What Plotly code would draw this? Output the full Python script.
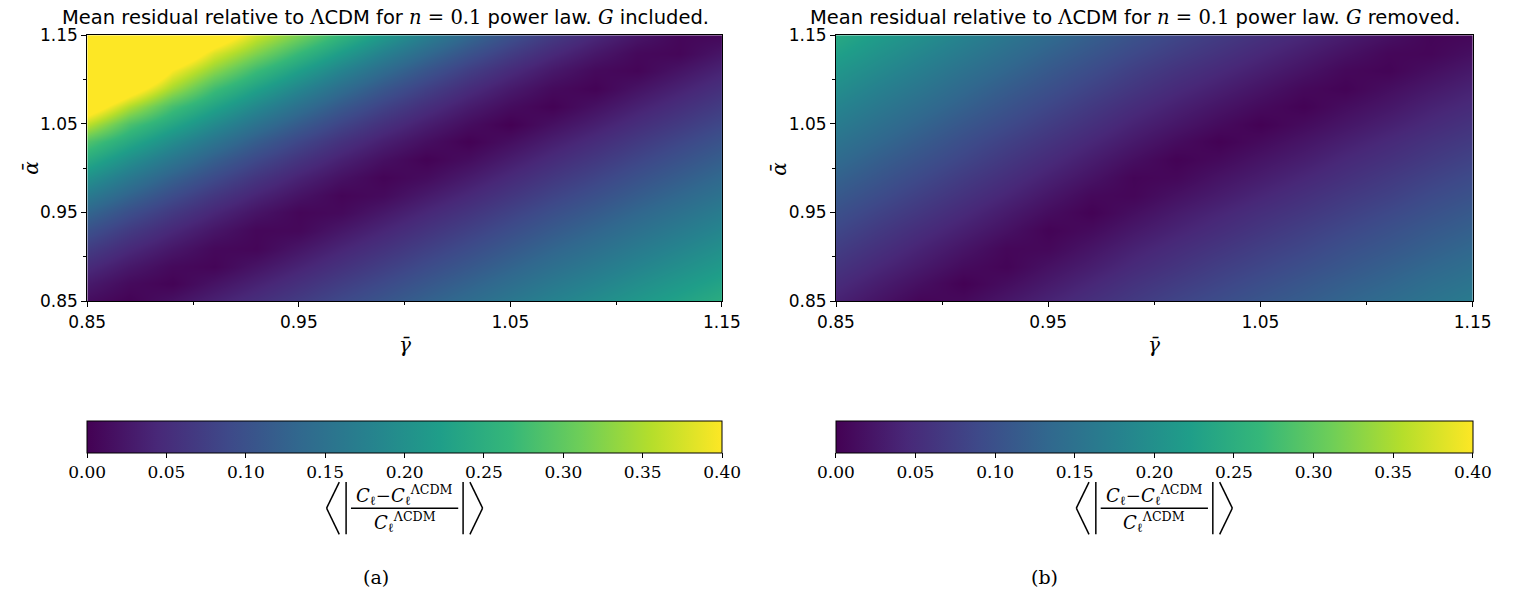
import plotly.graph_objects as go

# ---------------- data ----------------
gamma_bar = [0.85, 0.87, 0.89, 0.91, 0.93, 0.95, 0.97, 0.99,
             1.01, 1.03, 1.05, 1.07, 1.09, 1.11, 1.13, 1.15]
alpha_bar = [0.85, 0.87, 0.89, 0.91, 0.93, 0.95, 0.97, 0.99,
             1.01, 1.03, 1.05, 1.07, 1.09, 1.11, 1.13, 1.15]

# panel (a): one row per alpha_bar value (bottom -> top), columns follow gamma_bar
resid_included = [
    [0.013, 0.002, 0.019, 0.037, 0.054, 0.072, 0.090, 0.107, 0.125, 0.142, 0.160, 0.178, 0.195, 0.213, 0.230, 0.248],
    [0.029, 0.011, 0.003, 0.021, 0.038, 0.056, 0.074, 0.091, 0.109, 0.126, 0.144, 0.162, 0.179, 0.197, 0.214, 0.232],
    [0.049, 0.027, 0.010, 0.005, 0.022, 0.040, 0.058, 0.075, 0.093, 0.110, 0.128, 0.146, 0.163, 0.181, 0.198, 0.216],
    [0.073, 0.047, 0.026, 0.009, 0.006, 0.024, 0.042, 0.059, 0.077, 0.094, 0.112, 0.130, 0.147, 0.165, 0.182, 0.200],
    [0.100, 0.070, 0.045, 0.024, 0.007, 0.008, 0.026, 0.043, 0.061, 0.078, 0.096, 0.114, 0.131, 0.149, 0.166, 0.184],
    [0.131, 0.097, 0.068, 0.043, 0.022, 0.006, 0.010, 0.027, 0.045, 0.062, 0.080, 0.098, 0.115, 0.133, 0.150, 0.168],
    [0.165, 0.128, 0.094, 0.065, 0.041, 0.021, 0.005, 0.011, 0.029, 0.046, 0.064, 0.082, 0.099, 0.117, 0.134, 0.152],
    [0.203, 0.162, 0.124, 0.092, 0.063, 0.039, 0.019, 0.004, 0.013, 0.030, 0.048, 0.066, 0.083, 0.101, 0.118, 0.136],
    [0.245, 0.199, 0.158, 0.121, 0.089, 0.061, 0.037, 0.017, 0.002, 0.014, 0.032, 0.050, 0.067, 0.085, 0.102, 0.120],
    [0.290, 0.241, 0.195, 0.155, 0.118, 0.086, 0.058, 0.035, 0.016, 0.001, 0.016, 0.034, 0.051, 0.069, 0.086, 0.104],
    [0.362, 0.285, 0.236, 0.191, 0.151, 0.115, 0.083, 0.056, 0.033, 0.014, 0.000, 0.018, 0.035, 0.053, 0.070, 0.088],
    [0.446, 0.354, 0.281, 0.232, 0.188, 0.148, 0.112, 0.081, 0.054, 0.031, 0.013, 0.002, 0.019, 0.037, 0.054, 0.072],
    [0.535, 0.438, 0.346, 0.276, 0.228, 0.184, 0.144, 0.109, 0.078, 0.051, 0.029, 0.011, 0.003, 0.021, 0.038, 0.056],
    [0.631, 0.526, 0.400, 0.330, 0.272, 0.224, 0.180, 0.141, 0.106, 0.075, 0.049, 0.027, 0.010, 0.005, 0.022, 0.040],
    [0.732, 0.621, 0.470, 0.380, 0.322, 0.267, 0.219, 0.176, 0.137, 0.103, 0.073, 0.047, 0.026, 0.009, 0.006, 0.024],
    [0.839, 0.722, 0.560, 0.450, 0.370, 0.316, 0.262, 0.215, 0.172, 0.134, 0.100, 0.070, 0.045, 0.024, 0.007, 0.008],
]

# panel (b): one column per gamma_bar value, each listing alpha_bar bottom -> top
resid_removed_by_gamma = [
    [0.037, 0.049, 0.061, 0.073, 0.086, 0.099, 0.112, 0.125, 0.139, 0.153, 0.167, 0.181, 0.196, 0.210, 0.226, 0.241],
    [0.021, 0.032, 0.044, 0.056, 0.068, 0.081, 0.094, 0.107, 0.120, 0.134, 0.147, 0.161, 0.175, 0.190, 0.204, 0.219],
    [0.005, 0.016, 0.028, 0.039, 0.051, 0.064, 0.076, 0.089, 0.102, 0.115, 0.128, 0.142, 0.156, 0.170, 0.184, 0.199],
    [0.010, 0.001, 0.012, 0.023, 0.035, 0.047, 0.059, 0.071, 0.084, 0.096, 0.109, 0.123, 0.136, 0.150, 0.164, 0.178],
    [0.025, 0.014, 0.004, 0.007, 0.019, 0.030, 0.042, 0.054, 0.066, 0.078, 0.091, 0.104, 0.117, 0.131, 0.144, 0.158],
    [0.040, 0.029, 0.019, 0.008, 0.003, 0.014, 0.025, 0.037, 0.049, 0.061, 0.073, 0.086, 0.099, 0.112, 0.125, 0.139],
    [0.055, 0.044, 0.033, 0.023, 0.012, 0.002, 0.009, 0.021, 0.032, 0.044, 0.056, 0.068, 0.081, 0.094, 0.107, 0.120],
    [0.069, 0.059, 0.048, 0.038, 0.027, 0.016, 0.006, 0.005, 0.016, 0.028, 0.039, 0.051, 0.064, 0.076, 0.089, 0.102],
    [0.083, 0.072, 0.061, 0.051, 0.040, 0.030, 0.019, 0.008, 0.002, 0.013, 0.025, 0.036, 0.048, 0.060, 0.073, 0.085],
    [0.095, 0.084, 0.074, 0.063, 0.052, 0.042, 0.031, 0.021, 0.010, 0.001, 0.012, 0.023, 0.035, 0.047, 0.059, 0.071],
    [0.107, 0.096, 0.085, 0.075, 0.064, 0.054, 0.043, 0.032, 0.022, 0.011, 0.001, 0.011, 0.022, 0.034, 0.045, 0.057],
    [0.118, 0.108, 0.097, 0.086, 0.076, 0.065, 0.055, 0.044, 0.033, 0.023, 0.012, 0.002, 0.009, 0.021, 0.032, 0.044],
    [0.130, 0.120, 0.109, 0.099, 0.088, 0.077, 0.067, 0.056, 0.046, 0.035, 0.024, 0.014, 0.003, 0.008, 0.019, 0.031],
    [0.142, 0.131, 0.121, 0.110, 0.100, 0.089, 0.078, 0.068, 0.057, 0.047, 0.036, 0.025, 0.015, 0.004, 0.007, 0.018],
    [0.154, 0.144, 0.133, 0.122, 0.112, 0.101, 0.091, 0.080, 0.069, 0.059, 0.048, 0.038, 0.027, 0.016, 0.006, 0.005],
    [0.166, 0.155, 0.145, 0.134, 0.123, 0.113, 0.102, 0.092, 0.081, 0.070, 0.060, 0.049, 0.039, 0.028, 0.017, 0.007],
]

axis_ticks = [0.85, 0.95, 1.05, 1.15]
axis_minor = [0.90, 1.00, 1.10]
cbar_ticks = [0.00, 0.05, 0.10, 0.15, 0.20, 0.25, 0.30, 0.35, 0.40]
titles = ["included.", "removed."]
captions = ["(a)", "(b)"]

# ---------------- layout helpers ----------------
W, H = 1517, 613
def px(x):
    return x / W
def py(y):
    return 1 - y / H

SANS = "DejaVu Sans, Open Sans, sans-serif"
SERIF = "DejaVu Serif, Liberation Serif, serif"

panels = [(70, 721), (838, 1491)]
top, bottom = 26, 301
cb_top, cb_bot = 425, 457
caption_x = [366, 1052]

fig = go.Figure()

traces = [dict(z=resid_included, transpose=False),
          dict(z=resid_removed_by_gamma, transpose=True)]
for i, (tr, (xl, xr)) in enumerate(zip(traces, panels)):
    xa = "x" if i == 0 else "x2"
    ya = "y" if i == 0 else "y2"
    fig.add_trace(go.Heatmap(
        x=gamma_bar, y=alpha_bar, z=tr["z"], transpose=tr["transpose"],
        colorscale="Viridis", zmin=0, zmax=0.4, zsmooth="best",
        xaxis=xa, yaxis=ya, hoverinfo="skip",
        colorbar=dict(
            orientation="h",
            x=px((xl + xr) / 2), xanchor="center",
            y=py(cb_top), yanchor="top",
            len=(xr - xl) / W, lenmode="fraction",
            thickness=cb_bot - cb_top, thicknessmode="pixels",
            xpad=0, ypad=0,
            outlinecolor="black", outlinewidth=1,
            ticks="outside", ticklen=5, tickcolor="black",
            tickvals=cbar_ticks, ticktext=[f"{v:.2f}" for v in cbar_ticks],
            tickfont=dict(family=SERIF, size=17, color="black"),
        ),
    ))

axis_common = dict(
    range=[0.85, 1.15], showline=True, linecolor="black", linewidth=1,
    mirror=True, ticks="outside", ticklen=5, tickcolor="black",
    tickvals=axis_ticks, ticktext=[f"{v:.2f}" for v in axis_ticks],
    tickfont=dict(family=SANS, size=17, color="black"),
    minor=dict(tickvals=axis_minor, ticks="outside", ticklen=3, tickcolor="black"),
    showgrid=False, zeroline=False,
)

fig.update_layout(
    width=W, height=H,
    margin=dict(l=0, r=0, t=0, b=0),
    paper_bgcolor="white", plot_bgcolor="white",
    showlegend=False,
    xaxis=dict(domain=[px(panels[0][0]), px(panels[0][1])], anchor="y", **axis_common),
    yaxis=dict(domain=[py(bottom), py(top)], anchor="x", **axis_common),
    xaxis2=dict(domain=[px(panels[1][0]), px(panels[1][1])], anchor="y2", **axis_common),
    yaxis2=dict(domain=[py(bottom), py(top)], anchor="x2", **axis_common),
)

annotations = []
shapes = []
for i, (xl, xr) in enumerate(panels):
    cx = (xl + xr) / 2
    # title
    annotations.append(dict(
        x=px(cx - 20), y=py(8), xref="paper", yref="paper", showarrow=False,
        xanchor="center", yanchor="middle",
        text=("Mean residual relative to <span style='font-family:DejaVu Serif'>Λ</span>CDM for "
              "<span style='font-family:DejaVu Serif'><i>n</i> = 0.1</span> power law. "
              "<span style='font-family:DejaVu Serif'><i>G</i></span> " + titles[i]),
        font=dict(family=SANS, size=19.5, color="black"),
    ))
    # x label
    annotations.append(dict(
        x=px(cx), y=py(346), xref="paper", yref="paper", showarrow=False,
        xanchor="center", yanchor="middle", text="<i>γ̄</i>",
        font=dict(family=SERIF, size=20, color="black"),
    ))
    # y label
    annotations.append(dict(
        x=px(xl - 58), y=py((top + bottom) / 2), xref="paper", yref="paper",
        showarrow=False, xanchor="center", yanchor="middle", text="<i>ᾱ</i>",
        textangle=-90, font=dict(family=SERIF, size=20, color="black"),
    ))
    # colourbar label: < | (C_l - C_l^LCDM) / C_l^LCDM | >
    annotations.append(dict(
        x=px(cx), y=py(501), xref="paper", yref="paper", showarrow=False,
        xanchor="center", yanchor="middle",
        text="<i>C</i><sub>ℓ</sub>−<i>C</i><sub>ℓ</sub><sup>ΛCDM</sup>",
        font=dict(family=SERIF, size=18, color="black"),
    ))
    annotations.append(dict(
        x=px(cx), y=py(529), xref="paper", yref="paper", showarrow=False,
        xanchor="center", yanchor="middle",
        text="<i>C</i><sub>ℓ</sub><sup>ΛCDM</sup>",
        font=dict(family=SERIF, size=18, color="black"),
    ))
    line = dict(type="line", xref="paper", yref="paper",
                line=dict(color="black", width=1.5))
    ytop, ymid, ybot = 488, 515, 542
    # fraction bar
    shapes.append(dict(line, x0=px(cx - 55), x1=px(cx + 55), y0=py(ymid), y1=py(ymid)))
    # absolute value bars
    for sx in (cx - 60, cx + 60):
        shapes.append(dict(line, x0=px(sx), x1=px(sx), y0=py(ytop), y1=py(ybot)))
    # angle brackets (vertex pointing outward)
    for sgn in (-1, 1):
        inner = cx + sgn * 67
        outer = cx + sgn * 80
        shapes.append(dict(line, x0=px(inner), x1=px(outer), y0=py(ytop), y1=py(ymid)))
        shapes.append(dict(line, x0=px(outer), x1=px(inner), y0=py(ymid), y1=py(ybot)))
    # caption
    annotations.append(dict(
        x=px(caption_x[i]), y=py(586), xref="paper", yref="paper", showarrow=False,
        xanchor="center", yanchor="middle", text=captions[i],
        font=dict(family=SERIF, size=19, color="black"),
    ))

fig.update_layout(annotations=annotations, shapes=shapes)
fig.write_html("out.html")
